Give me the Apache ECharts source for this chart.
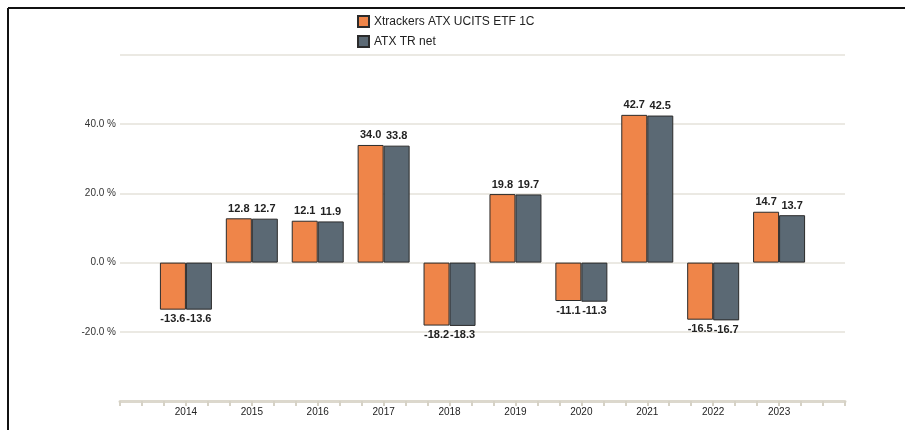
<!DOCTYPE html>
<html>
<head>
<meta charset="utf-8">
<script src="https://cdn.jsdelivr.net/npm/echarts@6/dist/echarts.min.js"></script>
<style>
  html, body { margin: 0; padding: 0; background: #fff; }
  #chart { width: 905px; height: 430px; }
</style>
</head>
<body>
<div id="chart"></div>
<script>
var years = [2014, 2015, 2016, 2017, 2018, 2019, 2020, 2021, 2022, 2023];
var fundName = 'Xtrackers ATX UCITS ETF 1C';
var indexName = 'ATX TR net';
var fundValues = [-13.6, 12.8, 12.1, 34.0, -18.2, 19.8, -11.1, 42.7, -16.5, 14.7];
var indexValues = [-13.6, 12.7, 11.9, 33.8, -18.3, 19.7, -11.3, 42.5, -16.7, 13.7];

function pairs(vals) {
    var out = [];
    for (var i = 0; i < years.length; i++) {
        out.push([years[i], vals[i]]);
    }
    return out;
}

function barLabel() {
    return {
        show: true,
        position: 'top',
        distance: 4,
        color: '#222',
        fontFamily: 'Arial, "Liberation Sans", sans-serif',
        fontSize: 11,
        fontWeight: 'bold',
        formatter: function (p) { return p.value[1].toFixed(1); }
    };
}

function makeSeries(name, vals, color) {
    var data = pairs(vals).map(function (d) {
        var item = { value: d };
        if (d[1] < 0) item.label = { position: 'bottom' };
        return item;
    });
    return {
        name: name,
        type: 'bar',
        barWidth: 26,
        barGap: '0%',
        data: data,
        itemStyle: { color: color, borderColor: '#2b2b2b', borderWidth: 1 },
        label: barLabel()
    };
}

var chart = echarts.init(document.getElementById('chart'));
chart.setOption({
    animation: false,
    textStyle: { fontFamily: 'Arial, "Liberation Sans", sans-serif' },
    grid: { left: 120, right: 60, top: 55, bottom: 29, containLabel: false },
    legend: {
        orient: 'vertical',
        left: 352,
        top: 10,
        itemWidth: 11,
        itemHeight: 11,
        itemGap: 7,
        icon: 'rect',
        textStyle: { color: '#222', fontSize: 12 },
        data: [fundName, indexName]
    },
    xAxis: {
        type: 'value',
        min: 2013,
        max: 2024,
        interval: 1,
        axisLine: { show: true, onZero: false, lineStyle: { color: '#dcd8cd', width: 3 } },
        axisTick: { show: true, length: 5, lineStyle: { color: '#d6d2c6', width: 2 } },
        minorTick: { show: true, splitNumber: 3, length: 5, lineStyle: { color: '#d6d2c6', width: 2 } },
        splitLine: { show: false },
        axisLabel: {
            color: '#222',
            fontSize: 10,
            margin: 6,
            formatter: function (v) {
                return (v === 2013 || v === 2024) ? '' : String(v);
            }
        }
    },
    yAxis: {
        type: 'value',
        min: -40,
        max: 60,
        interval: 20,
        axisLine: { show: false },
        axisTick: { show: false },
        splitLine: { lineStyle: { color: '#e4e2da', width: 1.5 } },
        axisLabel: {
            color: '#333',
            fontSize: 10,
            margin: 4,
            formatter: function (v) {
                if (v === 60 || v === -40) return '';
                return v.toFixed(1) + ' %';
            }
        }
    },
    graphic: [
        { type: 'line', shape: { x1: 8, y1: 8, x2: 905, y2: 8 }, style: { stroke: '#111', lineWidth: 2 } },
        { type: 'line', shape: { x1: 8, y1: 8, x2: 8, y2: 430 }, style: { stroke: '#111', lineWidth: 2 } }
    ],
    series: [
        makeSeries(fundName, fundValues, '#ef8549'),
        makeSeries(indexName, indexValues, '#5b6974')
    ]
});
</script>
</body>
</html>
